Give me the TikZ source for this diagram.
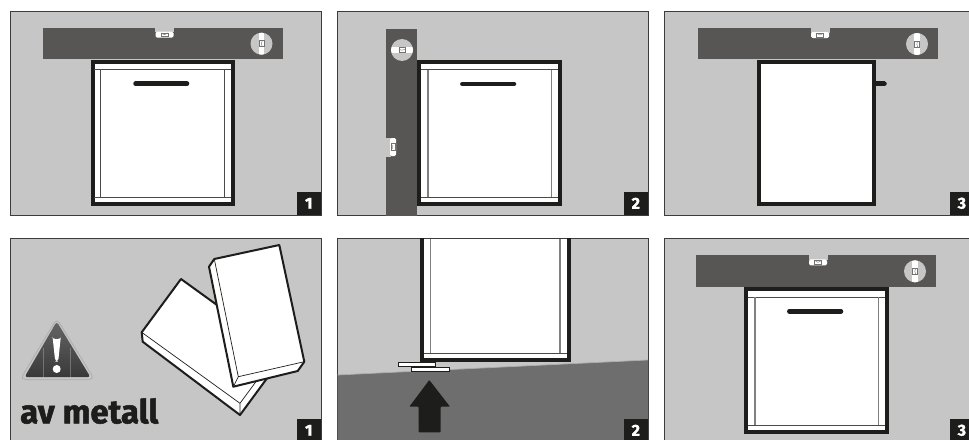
\documentclass[tikz,border=0pt]{standalone}
\usepackage{fontspec}
\setmainfont{Fira Sans}
\newfontfamily\heavyfont[FakeBold=1.6]{Fira Sans Bold}
\definecolor{panelbg}{HTML}{C6C6C6}
\definecolor{levelc}{HTML}{575654}
\definecolor{ink}{HTML}{1D1D1B}
\definecolor{floorc}{HTML}{6E6E6E}
\definecolor{frameline}{HTML}{3C3C3C}
\definecolor{trimline}{HTML}{4A4A4A}
\tikzset{
  panel/.style={fill=panelbg,draw=frameline,line width=0.9pt},
  numbox/.style={fill=ink,text=white,font=\heavyfont\fontsize{16}{16}\selectfont,inner sep=0pt,minimum width=24pt,minimum height=23pt,anchor=south east},
  doorbody/.style={fill=white,draw=ink,line width=4pt,miter limit=10},
  trim/.style={draw=trimline,line width=1pt},
  trimsoft/.style={draw=black!50,line width=1.1pt},
  handlebar/.style={draw=ink,line width=4.5pt,line cap=round},
  thinedge/.style={draw=ink,line width=0.7pt,line join=round},
  blockedge/.style={draw=ink,line width=2pt,line join=round,fill=white},
  shim/.style={fill=white,draw=ink,line width=1pt},
}
% spirit level, local frame: 240 long, 31.3 high
\newcommand{\levelshape}{%
  \fill[levelc] (0,0) rectangle (240,31.3);
  \fill[panelbg] (112.5,-0.3) rectangle (131.5,4.5);
  \fill[white,rounded corners=1.5pt] (113,4) -- (131,4) -- (131,10) -- (113,10) -- cycle;
  \draw[black!55,line width=0.5pt] (118.5,5.2) rectangle (125.5,8.8);
  \draw[black!55,line width=0.4pt] (118.5,5.2) -- (122,7) -- (125.5,5.2);
  \fill[panelbg] (219,16) circle (11);
  \begin{scope}
    \clip (219,16) circle (11);
    \fill[white] (216.3,0) rectangle (221.7,32);
  \end{scope}
  \draw[black!55,line width=0.5pt] (216.6,13) rectangle (221.4,19);
  \draw[black!55,line width=0.4pt] (219.8,13) .. controls (218.4,15) and (218.4,17) .. (219.8,19);
}
\begin{document}
\begin{tikzpicture}[x=1pt,y=-1pt]
\clip (0,0) rectangle (969,439);
\fill[white] (0,0) rectangle (969,439);

% ---- panel row 1, left
\draw[panel] (10.5,11) rectangle (321,215);
\draw[doorbody] (92.5,62) rectangle (232.7,204);
\draw[trim] (94,69.5) -- (231,69.5) (94,197.3) -- (231,197.3) (100.5,69.5) -- (100.5,197.3) (224.5,69.5) -- (224.5,197.3);
\begin{scope}[shift={(42.5,27.7)}]\levelshape\end{scope}
\draw[handlebar] (135.5,83.7) -- (187,83.7);
\node[numbox] (n1) at (321,215) {1};

% ---- panel row 1, middle
\draw[panel] (337.5,11) rectangle (648,215);
\draw[doorbody] (419.3,62) rectangle (559.7,204);
\draw[trim] (421,69.5) -- (558,69.5) (421,197.3) -- (558,197.3);
\draw[trimsoft] (428,69.5) -- (428,197.3) (551.3,69.5) -- (551.3,197.3);
\begin{scope}
  \clip (337.5,11) rectangle (648,215);
  \begin{scope}[shift={(386,269)},rotate=90]\levelshape\end{scope}
\end{scope}
\draw[handlebar] (462.3,84) -- (514,84);
\node[numbox] (n2) at (648,215) {2};

% ---- panel row 1, right
\draw[panel] (664,11) rectangle (974,215);
\draw[handlebar,line cap=butt] (874,83.7) -- (884.5,83.7);
\fill[ink] (884.5,83.7) circle (2.25);
\draw[doorbody] (758.7,62) rectangle (874.3,204);
\begin{scope}[shift={(698,28)}]\levelshape\end{scope}
\node[numbox] (n3) at (974,215) {3};

% ---- panel row 2, left
\draw[panel] (10.5,238.3) rectangle (321,442);
% back block
\draw[blockedge] (181,279) -- (141.7,332.3) -- (142.7,341.7) -- (240,415) -- (279,362) -- (279.3,350) -- cycle;
\draw[thinedge] (141.7,332.3) -- (240,403.3) -- (240,415) (240,403.3) -- (279.3,350);
% front block
\draw[blockedge] (209,266.7) -- (214.3,259) -- (279.3,245) -- (304.3,361.7) -- (297.7,371) -- (233.3,386.7) -- cycle;
\draw[thinedge] (214.3,259) -- (238.3,376.7) -- (304.3,361.7) (238.3,376.7) -- (233.3,386.7);
% warning sign
\draw[draw=black!30,fill=panelbg,line width=1pt,rounded corners=5pt] (56.7,318.5) -- (94.5,379.5) -- (20.3,379.5) -- cycle;
\begin{scope}
  \clip[rounded corners=3pt] (56.7,321.5) -- (90.5,377.2) -- (24.5,377.2) -- cycle;
  \shade[top color=black!60,middle color=black!48,bottom color=black!78,shading angle=0] (20,320) rectangle (95,378);
  \draw[white,opacity=0.25,line width=0.6pt] (43.3,348) -- (43.3,378) (70,348) -- (70,378);
\end{scope}
\fill[white,rounded corners=3pt] (52.4,335) arc[start angle=180,end angle=0,radius=4.3] -- (58.2,361.5) -- (55.2,361.5) -- cycle;
\fill[white] (56.7,369) circle (4);
\node[anchor=base west,inner sep=0pt,font=\heavyfont\fontsize{33}{33}\selectfont,text=ink] (metal) at (20,423.3) {av metall};
\node[numbox] (n4) at (321,442) {1};

% ---- panel row 2, middle
\draw[panel] (337.5,238.3) rectangle (648,442);
\fill[floorc] (337.5,375) -- (648,360) -- (648,442) -- (337.5,442) -- cycle;
\draw[black!32,line width=0.7pt] (337.5,375) -- (648,360);
\fill[white] (422,238.5) rectangle (569,360.3);
\draw[ink,line width=4pt] (422,238) -- (422,360.3) -- (569,360.3) -- (569,238);
\draw[trim] (424,353.3) -- (567,353.3);
\draw[trimsoft] (430.7,238.5) -- (430.7,353.3) (560,238.5) -- (560,353.3);
\draw[frameline,line width=0.9pt] (337.5,238.3) -- (420,238.3) (571,238.3) -- (648,238.3);
\draw[shim] (398.5,362.3) rectangle (435.7,366.5);
\draw[shim] (411.8,367.6) rectangle (449,371.8);
\fill[ink,rounded corners=0.8pt] (429.3,380) -- (450,406.7) -- (440.7,406.7) -- (440.7,432.3) -- (418.7,432.3) -- (418.7,406.7) -- (409.3,406.7) -- cycle;
\node[numbox] (n5) at (648,442) {2};

% ---- panel row 2, right
\draw[panel] (664,238.3) rectangle (974,442);
\draw[doorbody] (746,289.3) rectangle (886.7,431.7);
\draw[trim] (748,297) -- (885,297) (748,425) -- (885,425);
\draw[trimsoft] (755,297) -- (755,425) (878.3,297) -- (878.3,425);
\begin{scope}[shift={(696,255.3)}]\levelshape\end{scope}
\draw[handlebar] (789.3,311.3) -- (841,311.3);
\node[numbox] (n6) at (974,442) {3};
\end{tikzpicture}
\end{document}
